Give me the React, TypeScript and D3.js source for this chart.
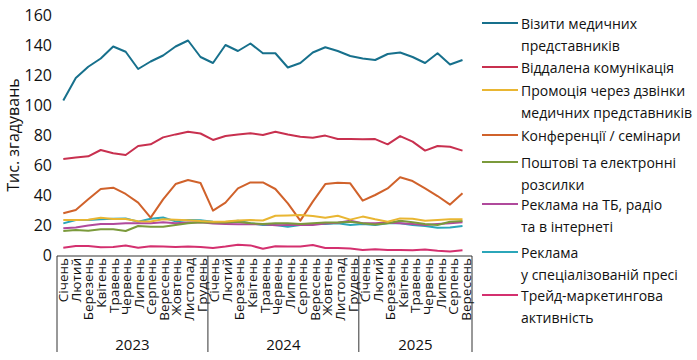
import React from "react";
import * as d3 from "d3";

const months2023 = ["Січень","Лютий","Березень","Квітень","Травень","Червень","Липень","Серпень","Вересень","Жовтень","Листопад","Грудень"];
const months2024 = ["Січень","Лютий","Березень","Квітень","Травень","Червень","Липень","Серпень","Вересень","Жовтень","Листопад","Грудень"];
const months2025 = ["Січень","Лютий","Березень","Квітень","Травень","Червень","Липень","Серпень","Вересень"];
const years = ["2023","2024","2025"];
const yTicks = [0,20,40,60,80,100,120,140,160];

const vizyty = [103,118,125.5,131,139,135.5,124,129,133,139,143,132,128,140,136,141,134.5,134.5,125,128,135,138.5,136,132.7,131,130,134,135,132,128,134.5,127,130];
const viddalena = [64,65,65.8,70,67.8,66.7,72.7,73.8,78.4,80.4,82.2,81,76.7,79.3,80.4,81.1,80,82.2,80.4,78.9,78.2,79.6,77.3,77.3,77.1,77.3,73.8,79.3,75.6,69.6,72.7,72.2,69.6];
const promotsiya = [23.3,23.3,23.5,24.8,24,24,22.5,22.4,23.8,23.5,23.2,22.6,22.2,22.4,23,23.3,23,26.2,26.4,26.7,26,24.9,26.2,23.6,25.6,23.8,22.2,24.4,24.2,22.9,23.3,23.8,23.8];
const konferentsii = [27.8,30,37.1,44,44.9,40.7,34.9,24.9,37.1,47.3,50,48,29.6,34.9,44.4,48.4,48.4,44,34.4,22.9,35.6,47.3,48.2,47.8,36.2,40,44.4,51.8,49.3,44.4,39.3,33.6,41.1];
const poshtovi = [16,16.7,16.2,17.1,17.1,16,19.3,18.9,18.9,20,21.1,21.8,21.6,21.6,22.2,21.1,20.7,21.1,21.1,20.7,21.1,21.6,21.6,22.2,21.1,20.4,21.1,22.9,21.8,20.7,20,22.2,22.7];
const reklamaTb = [17.8,18.4,19.6,20.7,20.7,21.1,21.1,21.1,21.8,21.1,21.6,21.8,21,20.7,20.5,20.5,20.5,19.8,20,20,20,21,21.5,22.9,21.1,21.1,21.6,21.1,20.7,20,20.7,21.1,21.8];
const reklamaPresa = [21.1,23.3,23.3,23.8,24.2,24.4,22.2,24.2,25,22.4,23.3,23.2,22.2,21.8,22.9,21.1,20,20,18.9,20,20.7,20.7,21.1,20,20.7,20,21.1,21.1,20,19.3,18.2,18.4,19.3];
const treid = [4.9,6,6,5.1,5.3,6.4,4.9,5.8,5.6,5.3,5.6,5.3,4.7,5.6,6.9,6.4,4.2,5.8,5.6,5.6,6.7,4.7,4.7,4.4,3.3,3.8,3.3,3.3,3.1,3.6,2.9,2.4,3.1];

const seriesNames = [
  ["Візити медичних", "представників"],
  ["Віддалена комунікація"],
  ["Промоція через дзвінки", "медичних представників"],
  ["Конференції / семінари"],
  ["Поштові та електронні", "розсилки"],
  ["Реклама на ТБ, радіо", "та в інтернеті"],
  ["Реклама", "у спеціалізованій пресі"],
  ["Трейд-маркетингова", "активність"],
];
const seriesValues = [vizyty, viddalena, promotsiya, konferentsii, poshtovi, reklamaTb, reklamaPresa, treid];
const seriesColors = ["#17708c", "#c8304f", "#e9b632", "#d0622b", "#7b9a3b", "#b04a9c", "#2ba6b9", "#d4306f"];

const W = 697, H = 360;
const FONT = "'Open Sans', 'Noto Sans', sans-serif";

export default function App() {
  const months = [...months2023, ...months2024, ...months2025];
  const yearCounts = [months2023.length, months2024.length, months2025.length];
  const idx = months.map((_, i) => i);

  const xBand = d3.scaleBand<number>().domain(idx).range([57, 472]).padding(0);
  const xPt = d3.scalePoint<number>().domain(idx).range([63.3, 462.5]);
  const y = d3.scaleLinear().domain([0, 160]).range([255, 15]);
  const line = d3.line<number>().x((_, i) => xPt(i)!).y((d) => y(d)).curve(d3.curveLinear);

  const axisY = 256;
  const sepBottom = 352;

  const bounds: number[] = [0];
  let acc = 0;
  yearCounts.forEach((c) => { acc += c; bounds.push(acc); });
  const boundX = (k: number) => (k >= months.length ? xBand.range()[1] : xBand(k)!);

  const legendLineY = [23, 67, 90, 135, 162, 204, 252, 295];
  const lineH = 22;

  return (
    <svg width={W} height={H} style={{ position: "absolute", left: 0, top: 0, background: "#fff", fontFamily: FONT }}>
      {yTicks.map((t) => (
        <text key={t} x={52} y={y(t)} textAnchor="end" dominantBaseline="central" fontFamily={FONT} fontSize={16} fill="#111">{t}</text>
      ))}
      <text transform={`translate(13,${135}) rotate(-90)`} textAnchor="middle" dominantBaseline="central" fontFamily={FONT} fontSize={16} fill="#111">Тис. згадувань</text>

      {seriesValues.map((vals, s) => (
        <path key={s} d={line(vals) || ""} fill="none" stroke={seriesColors[s]} strokeWidth={2} strokeLinejoin="round" />
      )).reverse()}

      <line x1={xBand.range()[0]} x2={xBand.range()[1]} y1={axisY} y2={axisY} stroke="#333" strokeWidth={1} />
      {bounds.map((b, i) => (
        <line key={i} x1={boundX(b)} x2={boundX(b)} y1={axisY} y2={sepBottom} stroke="#333" strokeWidth={1} />
      ))}
      {months.map((m, i) => (
        <text key={i} transform={`translate(${xBand(i)! + xBand.bandwidth() / 2},${axisY + 2}) rotate(-90)`} textAnchor="end" dominantBaseline="central" fontFamily={FONT} fontSize={13.5} fill="#111">{m}</text>
      ))}
      {years.map((yr, i) => (
        <text key={yr} x={(boundX(bounds[i]) + boundX(bounds[i + 1])) / 2} y={350} textAnchor="middle" fontFamily={FONT} fontSize={15} fill="#111">{yr}</text>
      ))}

      {seriesNames.map((lines, s) => (
        <g key={s}>
          <line x1={482} x2={518} y1={legendLineY[s]} y2={legendLineY[s]} stroke={seriesColors[s]} strokeWidth={2} />
          {lines.map((t, k) => (
            <text key={k} x={521} y={legendLineY[s] + k * lineH} dominantBaseline="central" fontFamily={FONT} fontSize={14} fill="#111">{t}</text>
          ))}
        </g>
      ))}
    </svg>
  );
}
